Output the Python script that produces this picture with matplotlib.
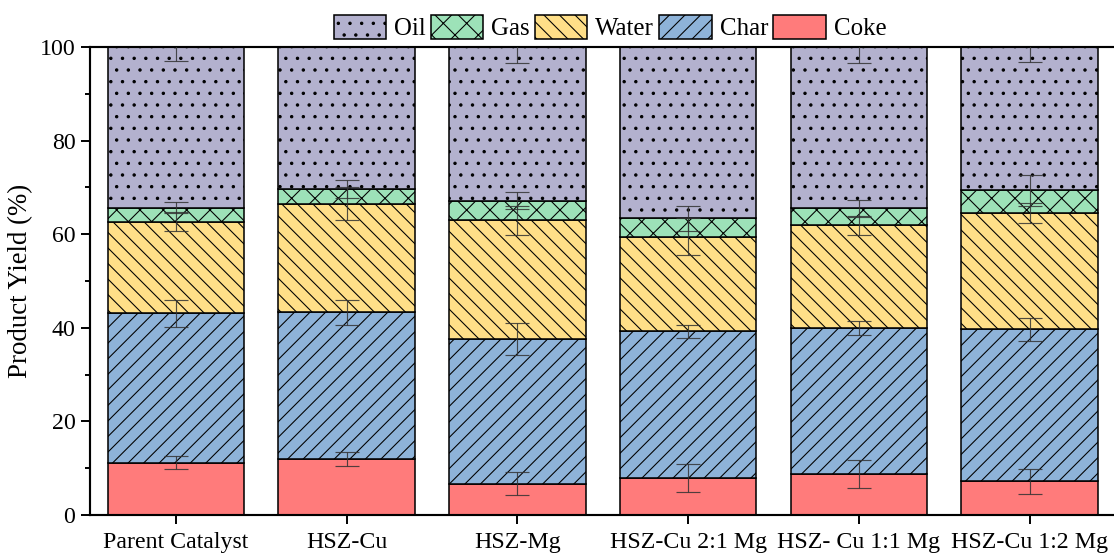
"""Stacked product yield chart with error bars."""

import matplotlib

matplotlib.use("Agg")

import matplotlib.pyplot as plt  # noqa: E402
import numpy as np  # noqa: E402
from matplotlib.ticker import MultipleLocator  # noqa: E402

catalysts = [
    "Parent Catalyst",
    "HSZ-Cu",
    "HSZ-Mg",
    "HSZ-Cu 2:1 Mg",
    "HSZ- Cu 1:1 Mg",
    "HSZ-Cu 1:2 Mg",
]

# yields (%) per product, bottom to top of the stack
coke = [11.2, 12.0, 6.7, 7.9, 8.8, 7.2]
char = [31.9, 31.3, 30.9, 31.4, 31.2, 32.5]
water = [19.6, 23.2, 25.4, 20.2, 21.9, 24.8]
gas = [3.0, 3.1, 4.2, 3.9, 3.6, 4.9]
oil = [34.3, 30.4, 32.8, 36.6, 34.5, 30.6]

# error bar half-widths, drawn at the top of each segment
coke_err = [1.4, 1.5, 2.5, 3.0, 3.0, 2.7]
char_err = [2.9, 2.7, 3.5, 1.4, 1.5, 2.5]
water_err = [2.0, 3.5, 3.1, 3.9, 2.0, 2.2]
gas_err = [1.1, 1.9, 1.9, 2.7, 1.8, 3.3]
oil_err = [3.0, 0.0, 3.5, 0.0, 3.5, 3.3]

DPI = 140
plt.rcParams["font.family"] = ["Liberation Serif", "DejaVu Serif"]
plt.rcParams["hatch.linewidth"] = 0.55

series = [
    ("Coke", coke, coke_err, "#FF7B7B", ""),
    ("Char", char, char_err, "#8EB3D9", "///"),
    ("Water", water, water_err, "#FFDF88", "\\\\\\"),
    ("Gas", gas, gas_err, "#9DE2B8", "xx"),
    ("Oil", oil, oil_err, "#B3B1CE", ".."),
]

figure = plt.figure(figsize=(1114 / DPI, 553 / DPI), dpi=DPI)
axis = figure.add_axes([90 / 1114, 38 / 553, 1024 / 1114, 468 / 553])

x = np.arange(len(catalysts))
bottom = np.zeros(len(catalysts))
handles = {}
for name, values, errors, color, hatch in series:
    values = np.array(values)
    bars = axis.bar(
        x,
        values,
        0.8,
        bottom=bottom,
        color=color,
        edgecolor="black",
        linewidth=0.8,
        hatch=hatch,
        label=name,
        zorder=2,
    )
    handles[name] = bars
    top = bottom + values
    errors = np.array(errors)
    shown = errors > 0
    axis.errorbar(
        x[shown],
        top[shown],
        yerr=errors[shown],
        fmt="none",
        ecolor="#333333",
        elinewidth=0.6,
        capsize=6,
        capthick=0.6,
        alpha=0.85,
        zorder=3,
    )
    bottom = top

axis.set_xlim(-0.504, 5.495)
axis.set_ylim(0, 100)
axis.set_xticks(x)
axis.set_xticklabels(catalysts)
axis.yaxis.set_major_locator(MultipleLocator(20))
axis.yaxis.set_minor_locator(MultipleLocator(10))
axis.set_ylabel("Product Yield (%)", fontsize=13.8, labelpad=3.5)

axis.tick_params(axis="both", which="major", labelsize=12.3, length=4.5, width=1.0,
                 direction="out")
axis.tick_params(axis="x", which="major", pad=4.2)
axis.tick_params(axis="y", which="major", pad=3)
axis.tick_params(axis="y", which="minor", length=2.5, width=1.0, direction="out")
axis.spines["right"].set_visible(False)
for side in ("left", "bottom", "top"):
    axis.spines[side].set_linewidth(1.1)

order = ["Oil", "Gas", "Water", "Char", "Coke"]
figure.legend(
    [handles[name] for name in order],
    order,
    loc="center",
    bbox_to_anchor=(610 / 1114, 1 - 27.5 / 553),
    ncol=5,
    frameon=False,
    fontsize=12.8,
    handlelength=2.1,
    handleheight=1.1,
    handletextpad=0.33,
    columnspacing=0.2,
    borderaxespad=0,
)

figure.savefig("out.png", dpi=DPI)
plt.close(figure)
